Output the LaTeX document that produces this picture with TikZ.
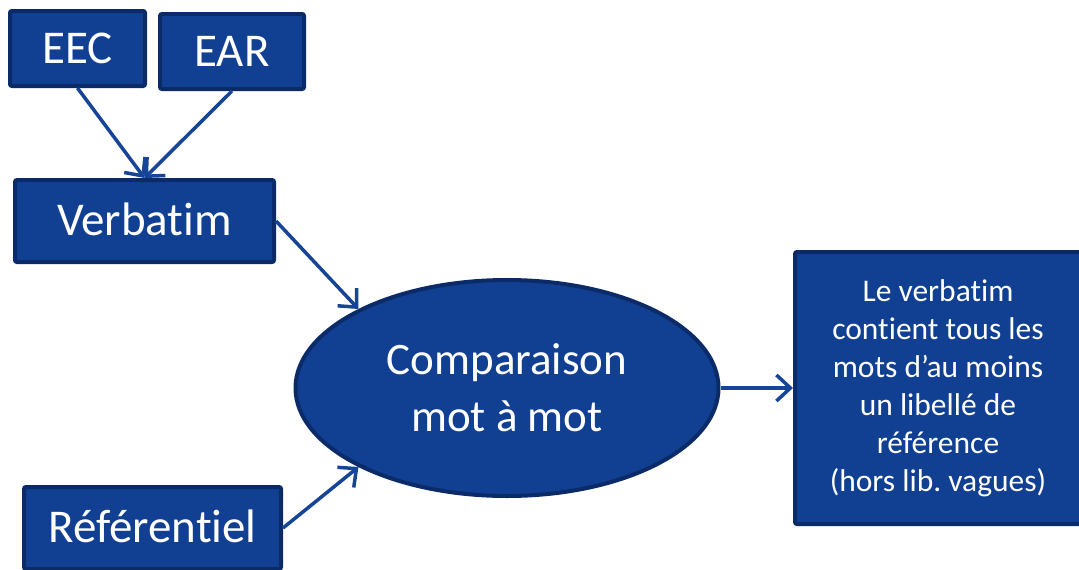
\documentclass[tikz,border=0pt]{standalone}
\usepackage{fontspec}
\setmainfont{Carlito}[RawFeature={-liga;-clig;-dlig;-calt}]
\usetikzlibrary{shapes.geometric,arrows.meta}
\definecolor{boxfill}{RGB}{17,64,146}
\definecolor{boxline}{RGB}{11,43,104}
\definecolor{arrowcol}{RGB}{22,68,150}
\newcommand{\tI}{t\kern0pt i}
\tikzset{
  bluebox/.style={draw=boxline, fill=boxfill, line width=4pt, rounded corners=2pt,
    text=white, inner sep=0pt, font=\fontsize{47}{57}\selectfont,
    text height=29.7pt, text depth=0pt},
  blueell/.style={ellipse, draw=boxline, fill=boxfill, line width=4pt,
    text=white, inner sep=0pt, align=center, font=\fontsize{45}{57}\selectfont},
  bluetext/.style={draw=boxline, fill=boxfill, line width=4pt, rounded corners=2pt,
    text=white, inner sep=0pt, align=center, font=\fontsize{31.5}{38}\selectfont},
  conn/.style={draw=arrowcol, line width=3.5pt,
    -{Straight Barb[length=14pt,width=26pt]}}
}
\frenchspacing
\begin{document}
\begin{tikzpicture}[x=1pt,y=-1pt]
\clip (0,0) rectangle (1079,570);
\fill[white] (0,0) rectangle (1079,570);
\node[bluebox, minimum width=135pt, minimum height=75pt] (eec) at (77.5,48.5) {EEC};
\node[bluebox, minimum width=144pt, minimum height=75pt] (ear) at (232,51.5) {EAR};
\node[bluebox, minimum width=259pt, minimum height=82pt] (verb) at (144.5,221) {Verba\tI m};
\node[bluebox, minimum width=257pt, minimum height=82pt] (ref) at (152.5,528) {Référen\tI el};
\node[blueell, minimum width=423pt, minimum height=216pt] (comp) at (507,388) {Comparaison\\mot à mot};
\node[bluetext, minimum width=286pt, minimum height=272pt] (res) at (938,388)
  {Le verba\tI m\\con\tI ent tous les\\mots d’au moins\\un libellé de\\référence\\(hors lib. vagues)};
\draw[conn] (eec.south) -- (verb.north);
\draw[conn] (ear.south) -- (verb.north);
\draw[conn] (verb.east) -- (comp.152);
\draw[conn] (ref.east) -- (comp.208);
\draw[conn] (comp.east) -- (res.west);
\end{tikzpicture}
\end{document}
